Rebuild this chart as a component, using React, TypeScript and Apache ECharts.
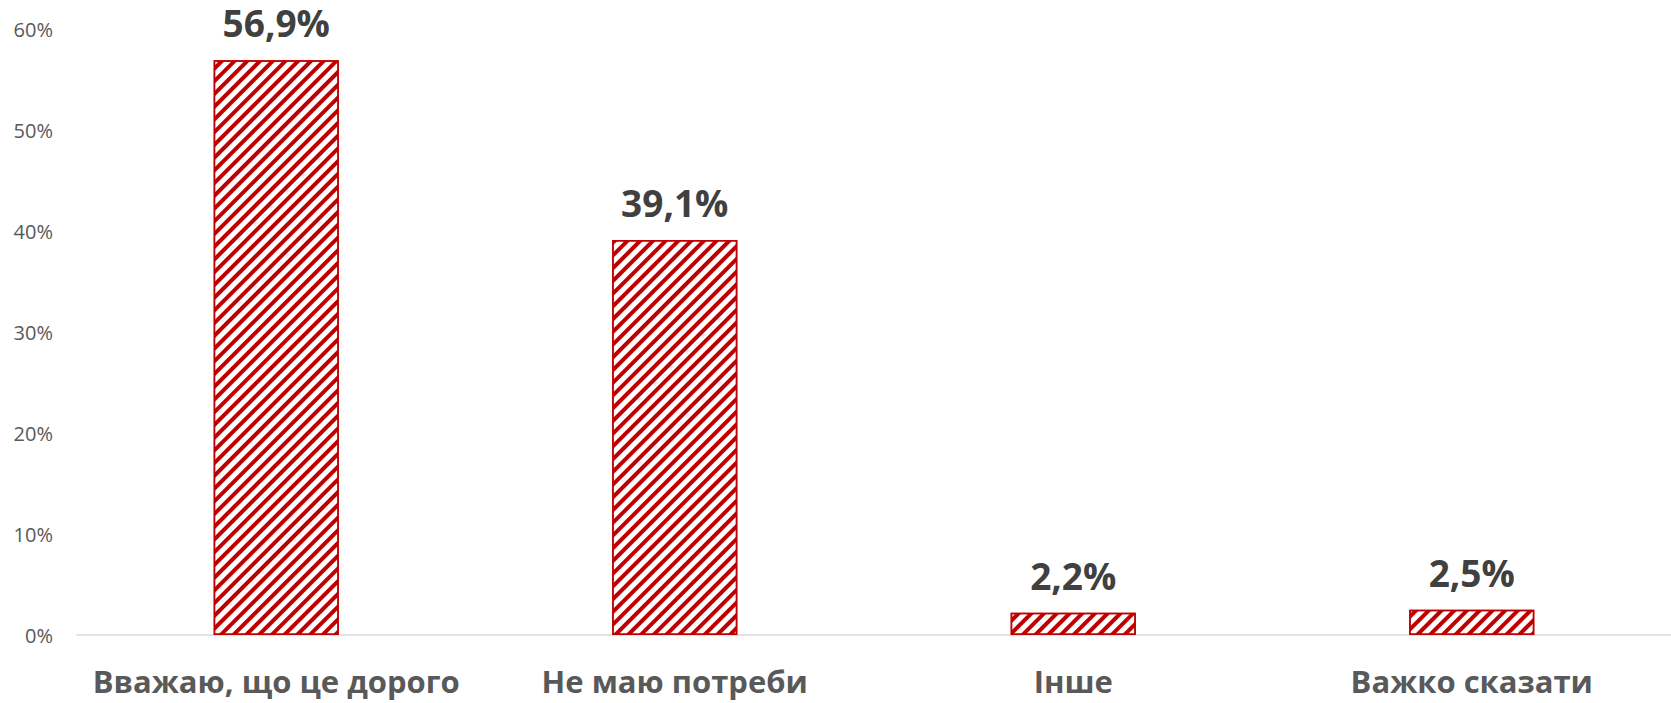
import React, { useEffect, useRef } from "react";
import * as echarts from "echarts";

const categories = ["Вважаю, що це дорого", "Не маю потреби", "Інше", "Важко сказати"];
const values = [0.569, 0.391, 0.022, 0.025];
const yTicks = [0, 0.1, 0.2, 0.3, 0.4, 0.5, 0.6];

const RED = "#C00000";
const FONT = "'Open Sans', 'Noto Sans', sans-serif";

export default function App() {
  const ref = useRef<HTMLDivElement>(null);
  useEffect(() => {
    if (!ref.current) return;
    const chart = echarts.init(ref.current, undefined, { renderer: "svg" });
    chart.setOption({
      animation: false,
      backgroundColor: "#ffffff",
      grid: { left: 77, right: 0, top: 29, bottom: 68, containLabel: false },
      xAxis: {
        type: "category",
        data: categories,
        axisLine: { show: true, lineStyle: { color: "#D9D9D9", width: 1.5 } },
        axisTick: { show: false },
        axisLabel: {
          interval: 0,
          color: "#595959",
          fontFamily: FONT,
          fontWeight: "bold",
          fontSize: 31,
          lineHeight: 32,
          margin: 30,
        },
      },
      yAxis: {
        type: "value",
        min: yTicks[0],
        max: yTicks[yTicks.length - 1],
        interval: 0.1,
        splitLine: { show: false },
        axisLine: { show: false },
        axisTick: { show: false },
        axisLabel: {
          color: "#595959",
          fontFamily: FONT,
          fontSize: 20,
          margin: 24,
          formatter: (v: number) => Math.round(v * 100) + "%",
        },
      },
      series: [
        {
          type: "bar",
          data: values,
          barWidth: "31.4%",
          itemStyle: {
            color: "#ffffff",
            borderColor: RED,
            borderWidth: 1.5,
            decal: {
              symbol: "rect",
              symbolSize: 1,
              color: RED,
              backgroundColor: "#ffffff",
              dashArrayX: [1, 0],
              dashArrayY: [4, 5],
              rotation: -Math.PI / 4,
            },
          },
          label: {
            show: true,
            position: "top",
            distance: 19,
            color: "#404040",
            fontFamily: FONT,
            fontWeight: "bold",
            fontSize: 37,
            formatter: (p: any) => (p.value * 100).toFixed(1).replace(".", ",") + "%",
          },
        },
      ],
    });
    return () => chart.dispose();
  }, []);
  return (
    <div
      ref={ref}
      style={{ position: "fixed", left: 0, top: 0, width: 1671, height: 703 }}
    />
  );
}
